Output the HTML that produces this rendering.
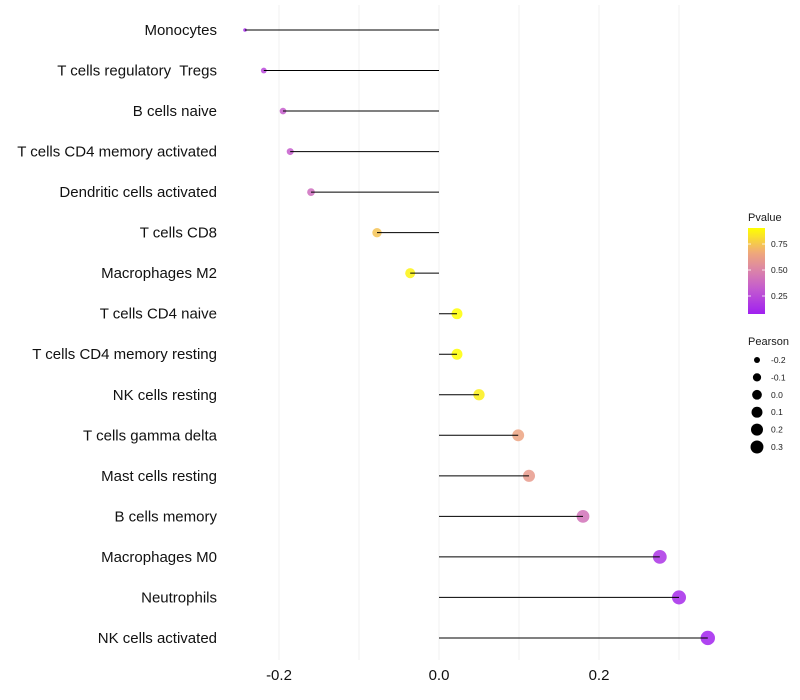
<!DOCTYPE html>
<html><head><meta charset="utf-8"><style>
body{margin:0;background:#fff;font-family:"Liberation Sans",sans-serif}
svg{display:block}
text{white-space:pre}
</style></head><body>
<svg id="chart" width="800" height="700"></svg>
<script>
const categories=["Monocytes","T cells regulatory  Tregs","B cells naive","T cells CD4 memory activated","Dendritic cells activated","T cells CD8","Macrophages M2","T cells CD4 naive","T cells CD4 memory resting","NK cells resting","T cells gamma delta","Mast cells resting","B cells memory","Macrophages M0","Neutrophils","NK cells activated"];
const pearson=[-0.2425,-0.219,-0.195,-0.186,-0.16,-0.0775,-0.036,0.0225,0.0225,0.05,0.099,0.1125,0.18,0.276,0.3,0.336];
const pvalues=[0.12,0.24,0.33,0.33,0.4,0.74,0.87,0.9,0.9,0.86,0.64,0.6,0.42,0.16,0.12,0.09];
const xTicks=[-0.2,0.0,0.2];
const xTickLabels=["-0.2","0.0","0.2"];
const xGrid=[-0.2,-0.1,0,0.1,0.2,0.3];
const pTicks=[0.25,0.5,0.75];
const pTickLabels=["0.25","0.50","0.75"];
const sizeLegend=[-0.2,-0.1,0.0,0.1,0.2,0.3];
const sizeLegendLabels=["-0.2","-0.1","0.0","0.1","0.2","0.3"];

const NS="http://www.w3.org/2000/svg";
const svg=document.getElementById('chart');
function el(tag,attrs,parent){const e=document.createElementNS(NS,tag);for(const k in attrs)e.setAttribute(k,attrs[k]);(parent||svg).appendChild(e);return e;}
const xs=v=>439+v*800;
const ys=i=>30+i*40.53;
const rs=v=>1.8+5.4*Math.sqrt(Math.max(0,(v+0.2425)/0.58));
const pMin=0.077,pMax=0.904;
function lerp(a,b,t){return a+(b-a)*t}
function pcol(p){
  const t=Math.max(0,Math.min(1,(p-pMin)/(pMax-pMin)));
  const stops=[[0,[160,32,240]],[0.3,[196,92,206]],[0.5,[218,130,170]],[0.72,[240,170,120]],[1,[255,255,0]]];
  for(let i=1;i<stops.length;i++){if(t<=stops[i][0]){const a=stops[i-1],b=stops[i];const u=(t-a[0])/(b[0]-a[0]);return `rgb(${Math.round(lerp(a[1][0],b[1][0],u))},${Math.round(lerp(a[1][1],b[1][1],u))},${Math.round(lerp(a[1][2],b[1][2],u))})`;}}
  return 'rgb(255,255,0)';
}
xGrid.forEach(v=>{
  const g=el('line',{x1:xs(v),x2:xs(v),y1:5,y2:660,stroke:'#f0f0f0','stroke-width':1});
  
  
});
xTicks.forEach((v,i)=>{
  const t=el('text',{x:xs(v),y:680,'text-anchor':'middle','font-size':15,fill:'#111'});
  t.textContent=xTickLabels[i];
  
  
});
categories.forEach((c,i)=>{
  const y=ys(i);
  const t=el('text',{x:217,y:y+5,'text-anchor':'end','font-size':15,fill:'#111'});
  t.textContent=c;
  
  
  const d=el('circle',{cx:xs(pearson[i]),cy:y,r:rs(pearson[i]),fill:pcol(pvalues[i]),'fill-opacity':0.85});
  
  
  const l=el('line',{x1:xs(0),x2:xs(pearson[i]),y1:y,y2:y,stroke:'#000','stroke-width':1});
  
  
});
const defs=el('defs',{});
const grad=el('linearGradient',{id:'pg',x1:0,y1:1,x2:0,y2:0},defs);
for(let k=0;k<=20;k++){const p=pMin+(pMax-pMin)*k/20;el('stop',{offset:k/20,'stop-color':pcol(p)},grad);}
const lt=el('text',{x:748,y:221,'font-size':11,fill:'#1a1a1a'});lt.textContent='Pvalue';


const bar=el('rect',{x:748,y:228,width:17,height:86,fill:'url(#pg)'});


const py=p=>314-(p-pMin)/(pMax-pMin)*86;
pTicks.forEach((p,i)=>{
  el('line',{x1:748,x2:751,y1:py(p),y2:py(p),stroke:'#fff','stroke-width':0.8});
  el('line',{x1:762,x2:765,y1:py(p),y2:py(p),stroke:'#fff','stroke-width':0.8});
  const t=el('text',{x:771,y:py(p)+3,'font-size':8.5,fill:'#1a1a1a'});t.textContent=pTickLabels[i];
  
  
});
const st=el('text',{x:748,y:345,'font-size':11,fill:'#1a1a1a'});st.textContent='Pearson';


sizeLegend.forEach((v,i)=>{
  const y=360+i*17.4;
  const c=el('circle',{cx:757,cy:y,r:rs(v)*0.92,fill:'#000'});
  
  
  const t=el('text',{x:771,y:y+3,'font-size':8.5,fill:'#1a1a1a'});t.textContent=sizeLegendLabels[i];
  
  
});
</script>
</body></html>
